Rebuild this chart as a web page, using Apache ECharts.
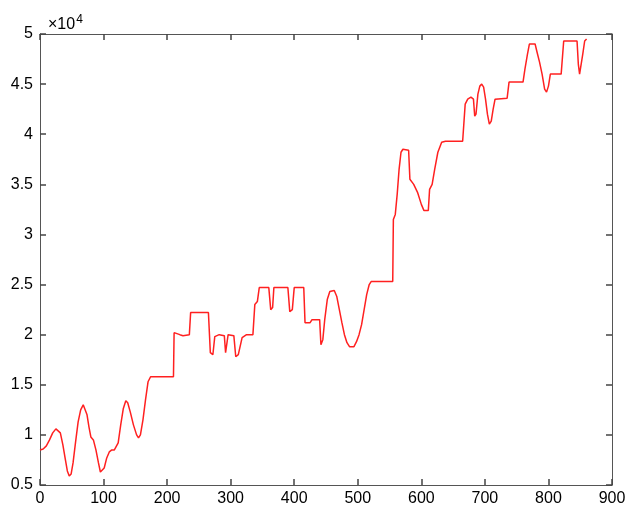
<!DOCTYPE html>
<html>
<head>
<meta charset="utf-8">
<script src="https://cdn.jsdelivr.net/npm/echarts@6/dist/echarts.min.js"></script>
<style>html,body{margin:0;padding:0;background:#fff;}#c{width:629px;height:514px;}</style>
</head>
<body>
<div id="c"></div>
<script>
// x positions (sample index) and values (raw units)
const xs = [0,5,10,15,20,25,28,32,36,40,43,46,49,52,56,60,64,68,71,74,77,80,84,88,92,95,98,101,105,109,113,117,120,123,127,131,135,138,142,147,152,155,158,162,166,170,174,210,211,220,225,235,237,250,265,268,272,275,282,290,292,296,305,308,312,318,325,335,338,342,345,360,363,366,368,390,393,397,400,415,417,425,428,440,442,445,448,452,456,463,467,471,475,479,483,487,494,498,502,506,510,514,518,521,555,556,559,562,565,568,571,580,582,588,594,600,604,611,613,617,621,626,632,638,665,668,669,673,678,682,684,686,689,692,695,698,701,704,707,710,713,716,719,735,738,760,763,767,770,779,782,786,790,794,797,800,803,806,820,824,845,847,849,852,854,857,860];
const ys = [8500,8600,8900,9500,10200,10600,10600,10200,9000,7500,6400,5900,6100,7200,9300,11300,12500,13000,12900,12000,10800,9800,9500,8500,7200,6300,6200,6700,7700,8300,8500,8500,8400,9200,11000,12600,13400,13200,12300,11000,10000,9700,10000,11500,13500,15300,15800,15800,20200,20000,19900,20000,22200,22200,22200,18200,18000,19800,20000,19900,18200,20000,19900,17800,18000,19700,20000,20000,23000,23300,24700,24700,22500,22700,24700,24700,22300,22500,24700,24700,21200,21200,21500,21500,19000,19500,21500,23500,24300,24400,23800,22500,21200,20000,19200,18800,18800,19300,20000,21000,22500,24000,25000,25300,25300,31500,32000,34000,36500,38200,38500,38400,35500,35000,34200,33000,32400,32400,34500,35000,36500,38200,39200,39300,39300,39200,43000,43500,43700,43500,41800,42000,44000,44800,45000,44700,43500,42000,41000,41300,42500,43500,43600,43600,45200,45200,46500,48000,49000,49000,48200,47200,46000,44500,44200,44800,46000,46000,46000,49300,49300,47000,46000,46000,48000,49300,49500];
const xTicks = [0,100,200,300,400,500,600,700,800,900];
const yTicks = [5000,10000,15000,20000,25000,30000,35000,40000,45000,50000];

const pts = xs.map((x,i)=>[x, ys[i]]);
const axisColor = '#555';
const font = 'Liberation Sans, Arial, sans-serif';
const chart = echarts.init(document.getElementById('c'));
const mkTick = () => ({show:true, inside:true, length:6, lineStyle:{color:'#444', width:1.5}});
const mkLine = () => ({show:true, onZero:false, lineStyle:{color:axisColor, width:1}});
chart.setOption({
  animation:false,
  backgroundColor:'#fff',
  title:{
    text:'{a|×10}{b|4}', left:43, top:9,
    textStyle:{fontWeight:'normal', rich:{a:{fontSize:16, fontFamily:font, color:'#000', fontWeight:'normal'}, b:{fontSize:12, fontFamily:font, color:'#000', fontWeight:'normal', verticalAlign:'top', padding:[0,0,10,1]}}}
  },
  grid:{left:40, right:17, top:34, bottom:29, containLabel:false},
  xAxis:[
    {type:'value', min:0, max:900, interval:100, position:'bottom',
     axisLine:mkLine(), axisTick:mkTick(),
     axisLabel:{color:'#000', fontSize:16, fontFamily:font, margin:6}, splitLine:{show:false}},
    {type:'value', min:0, max:900, interval:100, position:'top',
     axisLine:mkLine(), axisTick:mkTick(),
     axisLabel:{show:false}, splitLine:{show:false}}
  ],
  yAxis:[
    {type:'value', min:5000, max:50000, interval:5000, position:'left',
     axisLine:mkLine(), axisTick:mkTick(),
     axisLabel:{color:'#000', fontSize:16, fontFamily:font, margin:7, formatter:v=>String(v/10000)}, splitLine:{show:false}},
    {type:'value', min:5000, max:50000, interval:5000, position:'right',
     axisLine:mkLine(), axisTick:mkTick(),
     axisLabel:{show:false}, splitLine:{show:false}}
  ],
  series:[{type:'line', data:pts, showSymbol:false, smooth:false, xAxisIndex:0, yAxisIndex:0,
    lineStyle:{color:'#ff2020', width:1.5}}]
});
</script>
</body>
</html>
